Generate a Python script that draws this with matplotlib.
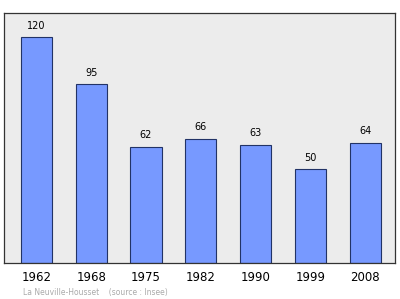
import matplotlib.pyplot as plt

years = ['1962', '1968', '1975', '1982', '1990', '1999', '2008']
population = [120, 95, 62, 66, 63, 50, 64]

fig = plt.figure(figsize=(4, 2.99), dpi=100)
ax = fig.add_axes([0.01, 0.12, 0.9775, 0.8365])
ax.set_facecolor('#ececec')

x = range(len(years))
ax.bar(x, population, width=0.57, color='#7799ff', edgecolor='#223366', linewidth=0.8)
for i, v in zip(x, population):
    ax.text(i, v + 3.5, str(v), ha='center', va='bottom', fontsize=7)

ax.set_xlim(-0.59, 6.54)
ax.set_ylim(0, 133)
ax.set_xticks(list(x))
ax.set_xticklabels(years, fontsize=8.5)
ax.set_yticks([])
ax.tick_params(axis='x', length=0, pad=6)
for s in ax.spines.values():
    s.set_color('#333333')
    s.set_linewidth(0.9)

fig.text(0.058, 0.012, 'La Neuville-Housset    (source : Insee)', fontsize=5.5, color='#aaaaaa')

plt.savefig('out.png', dpi=100)
